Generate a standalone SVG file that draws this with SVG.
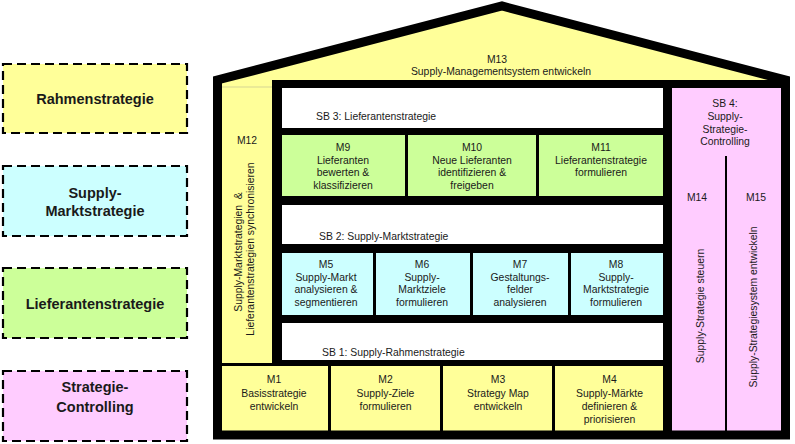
<svg xmlns="http://www.w3.org/2000/svg" width="795" height="444" viewBox="0 0 795 444">
<style>
text{font-family:"Liberation Sans",Arial,sans-serif;fill:#1a1a1a}
.s{font-size:10.4px;text-anchor:middle}
.sb{font-size:10.4px}
.l{font-size:14.5px;font-weight:bold;text-anchor:middle}
.y{fill:#FFFF99}.c{fill:#CCFFFF}.g{fill:#CCFF99}.p{fill:#FFCCFF}.w{fill:#FFFFFF}
.dash{stroke:#000;stroke-width:2.2;stroke-dasharray:9 5}
</style>
<rect width="795" height="444" fill="#fff"/>

<g id="legend-rahmen">
<rect class="y dash" x="3" y="64" width="184" height="69"/>
<text class="l" x="95" y="103.5">Rahmenstrategie</text>
</g>
<g id="legend-markt">
<rect class="c dash" x="3" y="166" width="184" height="70"/>
<text class="l" x="95" y="198">Supply-</text>
<text class="l" x="95" y="216">Marktstrategie</text>
</g>
<g id="legend-lieferanten">
<rect class="g dash" x="3" y="268" width="184" height="70"/>
<text class="l" x="95" y="309">Lieferantenstrategie</text>
</g>
<g id="legend-controlling">
<rect class="p dash" x="3" y="371" width="184" height="70"/>
<text class="l" x="95" y="392">Strategie-</text>
<text class="l" x="95" y="412">Controlling</text>
</g>

<g id="house">
<polygon class="y" points="217,80 502,6 786,80"/>
<rect x="213" y="80" width="577" height="359" fill="#000"/>
</g>

<g id="M13">
<text class="s" x="497" y="63">M13</text>
<text class="s" x="501" y="75">Supply-Managementsystem entwickeln</text>
</g>

<g id="M12">
<rect class="y" x="222" y="76" width="50" height="287"/>
<line x1="222" y1="87" x2="272" y2="87" stroke="#b8b890" stroke-width="0.6"/>
<text class="s" x="247" y="144">M12</text>
<text class="s" transform="translate(242,252) rotate(-90)" xml:space="preserve">Supply-Marktstrategien  &amp;</text>
<text class="s" transform="translate(254,249) rotate(-90)">Lieferantenstrategien synchronisieren</text>
</g>

<g id="SB3">
<rect class="w" x="282" y="88" width="381" height="40"/>
<text class="sb" x="316" y="120">SB 3: Lieferantenstrategie</text>
</g>
<g id="M9">
<rect class="g" x="282" y="135" width="123" height="61"/>
<text class="s" x="343" y="150.5">M9</text>
<text class="s" x="343" y="163.5">Lieferanten</text>
<text class="s" x="343" y="176">bewerten &amp;</text>
<text class="s" x="343" y="188.5">klassifizieren</text>
</g>
<g id="M10">
<rect class="g" x="408" y="135" width="128" height="61"/>
<text class="s" x="472" y="150.5">M10</text>
<text class="s" x="472" y="163.5">Neue Lieferanten</text>
<text class="s" x="472" y="176">identifizieren &amp;</text>
<text class="s" x="472" y="188.5">freigeben</text>
</g>
<g id="M11">
<rect class="g" x="539" y="135" width="124" height="61"/>
<text class="s" x="601" y="150.5">M11</text>
<text class="s" x="601" y="163.5">Lieferantenstrategie</text>
<text class="s" x="601" y="176">formulieren</text>
</g>

<g id="SB2">
<rect class="w" x="282" y="205" width="381" height="39"/>
<text class="sb" x="319" y="240">SB 2: Supply-Marktstrategie</text>
</g>
<g id="M5">
<rect class="c" x="282" y="253" width="91" height="62"/>
<text class="s" x="326" y="268">M5</text>
<text class="s" x="326" y="280.5">Supply-Markt</text>
<text class="s" x="326" y="293">analysieren &amp;</text>
<text class="s" x="326" y="305.5">segmentieren</text>
</g>
<g id="M6">
<rect class="c" x="376" y="253" width="94" height="62"/>
<text class="s" x="422" y="268">M6</text>
<text class="s" x="422" y="280.5">Supply-</text>
<text class="s" x="422" y="293">Marktziele</text>
<text class="s" x="422" y="305.5">formulieren</text>
</g>
<g id="M7">
<rect class="c" x="473" y="253" width="95" height="62"/>
<text class="s" x="520" y="268">M7</text>
<text class="s" x="520" y="280.5">Gestaltungs-</text>
<text class="s" x="520" y="293">felder</text>
<text class="s" x="520" y="305.5">analysieren</text>
</g>
<g id="M8">
<rect class="c" x="571" y="253" width="92" height="62"/>
<text class="s" x="616" y="268">M8</text>
<text class="s" x="616" y="280.5">Supply-</text>
<text class="s" x="616" y="293">Marktstrategie</text>
<text class="s" x="616" y="305.5">formulieren</text>
</g>

<g id="SB1">
<rect class="w" x="282" y="323" width="381" height="37"/>
<text class="sb" x="322" y="356">SB 1: Supply-Rahmenstrategie</text>
</g>
<g id="M1">
<rect class="y" x="222" y="366" width="106" height="65"/>
<text class="s" x="274" y="383">M1</text>
<text class="s" x="274" y="396.5">Basisstrategie</text>
<text class="s" x="274" y="410">entwickeln</text>
</g>
<g id="M2">
<rect class="y" x="331" y="366" width="109" height="65"/>
<text class="s" x="385.5" y="383">M2</text>
<text class="s" x="385.5" y="396.5">Supply-Ziele</text>
<text class="s" x="385.5" y="410">formulieren</text>
</g>
<g id="M3">
<rect class="y" x="443" y="366" width="109" height="65"/>
<text class="s" x="498" y="383">M3</text>
<text class="s" x="498" y="396.5">Strategy Map</text>
<text class="s" x="498" y="410">entwickeln</text>
</g>
<g id="M4">
<rect class="y" x="555" y="366" width="108" height="65"/>
<text class="s" x="609.5" y="383">M4</text>
<text class="s" x="609.5" y="396.5">Supply-Märkte</text>
<text class="s" x="609.5" y="410">definieren &amp;</text>
<text class="s" x="609.5" y="423">priorisieren</text>
</g>

<g id="SB4">
<rect class="p" x="672" y="88" width="110" height="343"/>
<text class="s" x="725" y="107">SB 4:</text>
<text class="s" x="725" y="120">Supply-</text>
<text class="s" x="725" y="132.5">Strategie-</text>
<text class="s" x="725" y="145">Controlling</text>
<line x1="726" y1="156" x2="726" y2="431" stroke="#000" stroke-width="2"/>
</g>
<g id="M14">
<text class="s" x="697" y="201">M14</text>
<text class="s" transform="translate(704,306) rotate(-90)">Supply-Strategie steuern</text>
</g>
<g id="M15">
<text class="s" x="756" y="201">M15</text>
<text class="s" transform="translate(756.5,307) rotate(-90)">Supply-Strategiesystem entwickeln</text>
</g>

<g id="outline">
<path d="M217.5 435 L217.5 80 L502 6 L785.5 80 L785.5 435 Z" fill="none" stroke="#000" stroke-width="9" stroke-linejoin="miter"/>
</g>
</svg>
